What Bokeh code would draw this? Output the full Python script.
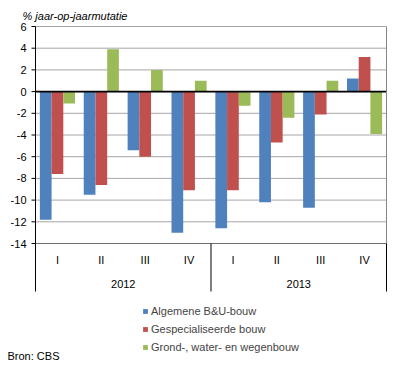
from bokeh.plotting import figure
from bokeh.models import Legend, LegendItem, Range1d
from bokeh.core.properties import value
from bokeh.embed import file_html
from bokeh.resources import INLINE

quarters = ["I", "II", "III", "IV", "I", "II", "III", "IV"]
years = ["2012", "2013"]
algemene = [-11.8, -9.5, -5.4, -13.0, -12.6, -10.2, -10.7, 1.2]
gespecialiseerde = [-7.6, -8.6, -6.0, -9.1, -9.1, -4.7, -2.1, 3.2]
grond = [-1.1, 3.9, 2.0, 1.0, -1.3, -2.4, 1.0, -3.9]
series_names = ["Algemene B&U-bouw", "Gespecialiseerde bouw", "Grond-, water- en wegenbouw"]
colors = ["#4F81BD", "#C0504D", "#9BBB59"]
yticks = list(range(-14, 7, 2))
ytitle = "% jaar-op-jaarmutatie"
source_note = "Bron: CBS"

FONT = value("Liberation Sans")
FS = value("11px")

W, H = 396, 369
n = len(quarters)
ymin, ymax = yticks[0], yticks[-1]

# pixel geometry of the plot area inside the canvas
fx0, fx1, fy0, fy1 = 35, 386, 26, 243
kx = (fx1 - fx0) / n              # px per category
ky = (fy1 - fy0) / (ymax - ymin)  # px per unit

def X(px):
    return (px - fx0) / kx

def Y(py):
    return ymax - (py - fy0) / ky

p = figure(width=W, height=H, output_backend="svg", toolbar_location=None,
           x_range=Range1d(X(0), X(W)), y_range=Range1d(Y(H), Y(0)),
           min_border=0, min_border_left=0, min_border_right=0,
           min_border_top=0, min_border_bottom=0)
p.xaxis.visible = False
p.yaxis.visible = False
p.grid.visible = False
p.outline_line_color = None
p.background_fill_color = "white"
p.border_fill_color = "white"

xc = [i + 0.5 for i in range(n)]

# gridlines
gy = [t for t in yticks if t != ymin]
p.segment(x0=[0] * len(gy), x1=[n] * len(gy), y0=gy, y1=gy, line_color="#A6A6A6", line_width=1)

# bars
bw = 0.267
rs = []
for k, vals in enumerate([algemene, gespecialiseerde, grond]):
    xs = [x + (k - 1) * bw for x in xc]
    r = p.vbar(x=xs, top=vals, bottom=0, width=bw, fill_color=colors[k], line_color=None)
    rs.append(r)

# zero line
p.segment(x0=[0], x1=[n], y0=[0], y1=[0], line_color="black", line_width=1.6)

# right border
p.segment(x0=[n], x1=[n], y0=[ymin], y1=[ymax], line_color="#868686", line_width=1)
# bottom axis line
p.segment(x0=[0], x1=[n], y0=[ymin], y1=[ymin], line_color="#6E6E6E", line_width=1)

# y axis line, ticks, labels
p.segment(x0=[0], x1=[0], y0=[ymin], y1=[ymax], line_color="black", line_width=1)
p.segment(x0=[X(fx0 - 4)] * len(yticks), x1=[0] * len(yticks), y0=yticks, y1=yticks,
          line_color="black", line_width=1)
p.text(x=[X(26)] * len(yticks), y=yticks, text=[str(t) for t in yticks],
       text_align="right", text_baseline="middle", text_font=FONT, text_font_size=FS,
       text_color="black")

# category separators
seps = [0, n // 2, n]
p.segment(x0=seps, x1=seps, y0=[ymin] * 3, y1=[Y(291)] * 3, line_color="black", line_width=1)

# quarter labels
p.text(x=xc, y=[Y(259)] * n, text=quarters, text_align="center", text_baseline="middle",
       text_font=FONT, text_font_size=FS, text_color="black")
# year labels
p.text(x=[n / 4, 3 * n / 4], y=[Y(283)] * 2, text=years, text_align="center",
       text_baseline="middle", text_font=FONT, text_font_size=FS, text_color="black")

# axis title
p.text(x=[X(22)], y=[Y(15)], text=[ytitle], text_align="left", text_baseline="middle",
       text_font=FONT, text_font_size=FS, text_font_style="italic", text_color="black")
# source note
p.text(x=[X(7)], y=[Y(355.5)], text=[source_note], text_align="left", text_baseline="middle",
       text_font=FONT, text_font_size=FS, text_color="black")

legend = Legend(items=[LegendItem(label=nm, renderers=[r]) for nm, r in zip(series_names, rs)],
                location=(142, H - 353), padding=0, margin=0, spacing=6,
                glyph_width=6, glyph_height=6, label_height=12, label_standoff=3,
                label_text_font="Liberation Sans", label_text_font_size="11px",
                background_fill_alpha=0, border_line_color=None)
p.add_layout(legend)

open("out.html", "w").write(file_html(p, INLINE))
